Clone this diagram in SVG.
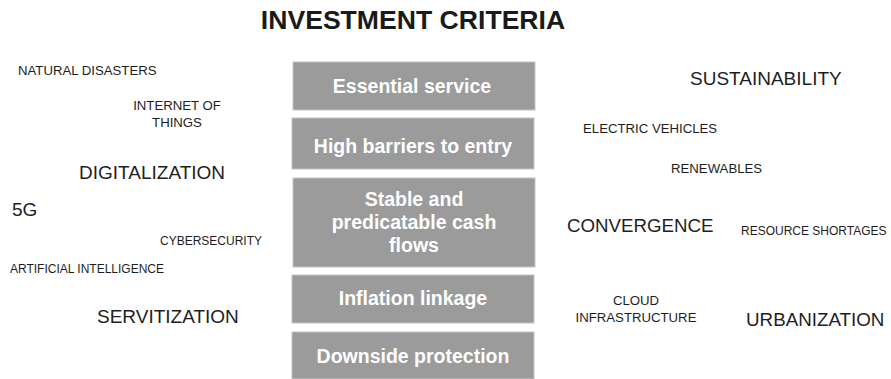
<svg xmlns="http://www.w3.org/2000/svg" width="891" height="379" viewBox="0 0 891 379">
  <style>
    .title { font-family: "Liberation Sans", Arial, sans-serif; font-weight: bold; font-size: 26.6px; fill: #1a1a1a; text-anchor: middle; }
    .box { fill: #9b9b9b; stroke: #c4c4c4; stroke-width: 1; }
    .crit { font-family: "Liberation Sans", Arial, sans-serif; font-weight: bold; font-size: 19.5px; fill: #ffffff; text-anchor: middle; }
    .big { font-family: "Liberation Sans", Arial, sans-serif; font-size: 19px; fill: #1e1e1e; }
    .small { font-family: "Liberation Sans", Arial, sans-serif; font-size: 12px; fill: #1e1e1e; }
    .wide { font-size: 13.2px; }
    .mid { text-anchor: middle; }
  </style>
  <rect width="891" height="379" fill="#ffffff"/>

  <text class="title" x="413" y="29">INVESTMENT CRITERIA</text>

  <!-- criteria stack -->
  <g id="essential-service">
    <rect class="box" x="293" y="62" width="242" height="48"/>
    <text class="crit" x="412" y="93">Essential service</text>
  </g>
  <g id="high-barriers">
    <rect class="box" x="292" y="118" width="242" height="51"/>
    <text class="crit" x="413" y="153">High barriers to entry</text>
  </g>
  <g id="stable-cash-flows">
    <rect class="box" x="293" y="178" width="242" height="89"/>
    <text class="crit" x="414" y="206">Stable and</text>
    <text class="crit" x="414" y="229">predicatable cash</text>
    <text class="crit" x="414" y="252">flows</text>
  </g>
  <g id="inflation-linkage">
    <rect class="box" x="292" y="275" width="242" height="48"/>
    <text class="crit" x="413" y="305">Inflation linkage</text>
  </g>
  <g id="downside-protection">
    <rect class="box" x="292" y="332" width="242" height="47"/>
    <text class="crit" x="413" y="363">Downside protection</text>
  </g>

  <!-- themes, left side -->
  <g id="left-themes">
    <text class="small wide" x="18" y="75">NATURAL DISASTERS</text>
    <text class="small wide mid" x="177" y="110">INTERNET OF</text>
    <text class="small wide mid" x="177" y="127">THINGS</text>
    <text class="big" x="79" y="179">DIGITALIZATION</text>
    <text class="big" x="12" y="216">5G</text>
    <text class="small" x="160" y="245">CYBERSECURITY</text>
    <text class="small" x="10" y="273">ARTIFICIAL INTELLIGENCE</text>
    <text class="big" x="97" y="323">SERVITIZATION</text>
  </g>

  <!-- themes, right side -->
  <g id="right-themes">
    <text class="big" x="690" y="85">SUSTAINABILITY</text>
    <text class="small wide" x="583" y="133">ELECTRIC VEHICLES</text>
    <text class="small wide" x="671" y="173">RENEWABLES</text>
    <text class="big" x="567" y="232" style="font-size:18.7px">CONVERGENCE</text>
    <text class="small" x="741" y="235">RESOURCE SHORTAGES</text>
    <text class="small wide mid" x="636" y="305">CLOUD</text>
    <text class="small wide mid" x="636" y="322">INFRASTRUCTURE</text>
    <text class="big" x="746" y="326" style="font-size:18.8px">URBANIZATION</text>
  </g>
</svg>
